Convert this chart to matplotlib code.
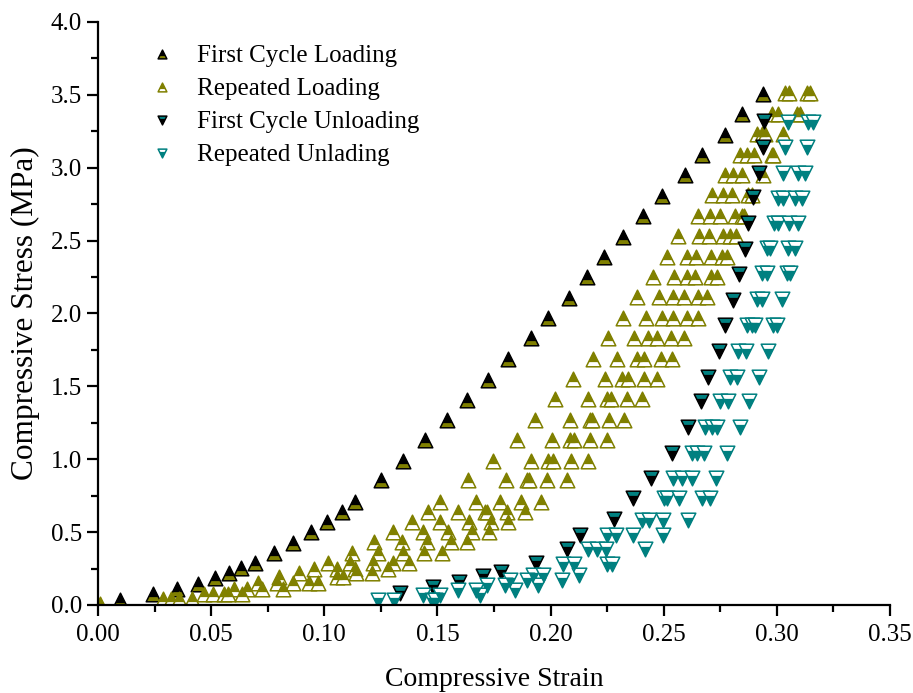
import matplotlib.pyplot as plt
from matplotlib.path import Path
from matplotlib.ticker import MultipleLocator, AutoMinorLocator, FormatStrFormatter
from matplotlib.legend_handler import HandlerTuple

plt.rcParams['font.family'] = ['Liberation Serif', 'DejaVu Serif']

olive = '#808000'
teal = '#008080'

# first cycle loading
load1_x = [0.0097, 0.0243, 0.0349, 0.0441, 0.0517, 0.0579, 0.0631, 0.0694, 0.0778,
           0.0860, 0.0941, 0.1013, 0.1080, 0.1136, 0.1251, 0.1348, 0.1445, 0.1542,
           0.1631, 0.1723, 0.1812, 0.1913, 0.1989, 0.2081, 0.2161, 0.2236, 0.2320,
           0.2408, 0.2492, 0.2594, 0.2669, 0.2771, 0.2846, 0.2937]
load1_y = [0.034, 0.075, 0.110, 0.144, 0.185, 0.220, 0.254, 0.288, 0.357,
           0.425, 0.501, 0.569, 0.638, 0.707, 0.858, 0.988, 1.132, 1.269,
           1.406, 1.544, 1.688, 1.830, 1.970, 2.106, 2.250, 2.387, 2.525,
           2.669, 2.806, 2.950, 3.087, 3.225, 3.369, 3.506]

# repeated loading, grouped by stress level
rload_y = [3.51, 3.37, 3.23, 3.09, 2.95, 2.81, 2.67, 2.53, 2.39, 2.25, 2.11, 1.97,
           1.83, 1.69, 1.55, 1.41, 1.27, 1.13, 0.99, 0.86, 0.71, 0.64, 0.57, 0.50,
           0.43, 0.36, 0.29, 0.25, 0.22, 0.19, 0.15, 0.11, 0.075, 0.04, 0.01]
rload_x = [
    [0.3036, 0.3055, 0.3132, 0.3146],
    [0.2977, 0.3006, 0.3087, 0.3102],
    [0.2911, 0.2933, 0.2947, 0.3028],
    [0.2837, 0.2867, 0.2899, 0.2977, 0.2984],
    [0.2771, 0.2805, 0.2844, 0.2940],
    [0.2712, 0.2763, 0.2803, 0.2874, 0.2889],
    [0.2650, 0.2704, 0.2749, 0.2815, 0.2844, 0.2855],
    [0.2564, 0.2657, 0.2701, 0.2763, 0.2793, 0.2818],
    [0.2513, 0.2601, 0.2643, 0.2707, 0.2756, 0.2778],
    [0.2451, 0.2545, 0.2601, 0.2638, 0.2707, 0.2737],
    [0.2380, 0.2480, 0.2540, 0.2589, 0.2653, 0.2690],
    [0.2318, 0.2422, 0.2491, 0.2540, 0.2604, 0.2653],
    [0.2255, 0.2370, 0.2429, 0.2469, 0.2531, 0.2591],
    [0.2186, 0.2295, 0.2380, 0.2413, 0.2487, 0.2535],
    [0.2100, 0.2240, 0.2314, 0.2343, 0.2413, 0.2472],
    [0.2019, 0.2164, 0.2248, 0.2266, 0.2339, 0.2403],
    [0.1931, 0.2086, 0.2174, 0.2182, 0.2258, 0.2324],
    [0.1850, 0.2005, 0.2086, 0.2103, 0.2174, 0.2248],
    [0.1747, 0.1912, 0.1990, 0.2012, 0.2089, 0.2167],
    [0.1636, 0.1802, 0.1894, 0.1906, 0.1983, 0.2071],
    [0.1511, 0.1669, 0.1776, 0.1868, 0.1956],
    [0.1460, 0.1592, 0.1710, 0.1720, 0.1806, 0.1887],
    [0.1386, 0.1511, 0.1641, 0.1737, 0.1813],
    [0.1305, 0.1435, 0.1548, 0.1651, 0.1729],
    [0.1220, 0.1342, 0.1452, 0.1559, 0.1629],
    [0.1121, 0.1239, 0.1346, 0.1441, 0.1519],
    [0.1018, 0.1114, 0.1217, 0.1305, 0.1376],
    [0.0954, 0.1055, 0.1136, 0.1283],
    [0.0890, 0.1140, 0.1209],
    [0.0801, 0.1055, 0.1084],
    [0.0708, 0.0790, 0.0863, 0.0934, 0.0973],
    [0.0601, 0.0660, 0.0723, 0.0816],
    [0.0468, 0.0510, 0.0557, 0.0576, 0.0635],
    [0.0286, 0.0321, 0.0359, 0.0414],
    [0.0009],
]

# first cycle unloading
unload1_x = [0.2943, 0.2937, 0.2922, 0.2896, 0.2874, 0.2859, 0.2833, 0.2805, 0.2771,
             0.2744, 0.2697, 0.2665, 0.2608, 0.2536, 0.2442, 0.2363, 0.2280, 0.2130,
             0.2071, 0.1935, 0.1779, 0.1703, 0.1597, 0.1479, 0.1335]
unload1_y = [3.320, 3.140, 2.966, 2.797, 2.619, 2.440, 2.271, 2.093, 1.921,
             1.743, 1.566, 1.400, 1.219, 1.045, 0.871, 0.732, 0.588, 0.480,
             0.382, 0.285, 0.228, 0.196, 0.156, 0.120, 0.079]

# repeated unloading, grouped by stress level
runload_y = [3.316, 3.142, 2.966, 2.790, 2.619, 2.447, 2.276, 2.097, 1.918, 1.743,
             1.566, 1.400, 1.219, 1.045, 0.871, 0.732, 0.583, 0.480, 0.381, 0.281,
             0.206, 0.172, 0.137, 0.103, 0.069, 0.034]
runload_x = [
    [0.3050, 0.3139, 0.3161],
    [0.3036, 0.3132],
    [0.3026, 0.3095, 0.3124],
    [0.3006, 0.3026, 0.3080, 0.3110],
    [0.2988, 0.3006, 0.3055, 0.3095],
    [0.2955, 0.2970, 0.3050, 0.3080],
    [0.2933, 0.2955, 0.3043, 0.3058],
    [0.2911, 0.2933, 0.3021],
    [0.2867, 0.2889, 0.2903, 0.2984, 0.3002],
    [0.2829, 0.2862, 0.2962],
    [0.2793, 0.2822, 0.2922],
    [0.2749, 0.2785, 0.2878],
    [0.2682, 0.2712, 0.2734, 0.2837],
    [0.2623, 0.2646, 0.2678, 0.2781],
    [0.2542, 0.2579, 0.2623, 0.2731],
    [0.2501, 0.2514, 0.2569, 0.2668, 0.2704],
    [0.2403, 0.2436, 0.2498, 0.2608],
    [0.2248, 0.2289, 0.2363, 0.2498],
    [0.2167, 0.2204, 0.2245, 0.2417],
    [0.2056, 0.2103, 0.2248, 0.2270],
    [0.1924, 0.1968, 0.2127],
    [0.1821, 0.1894, 0.2049],
    [0.1718, 0.1798, 0.1946],
    [0.1592, 0.1670, 0.1843],
    [0.1437, 0.1511, 0.1688],
    [0.1239, 0.1308, 0.1475, 0.1489],
]


def flatten(levels, rows):
    xs, ys = [], []
    for lv, row in zip(levels, rows):
        xs += row
        ys += [lv] * len(row)
    return xs, ys


rload_xf, rload_yf = flatten(rload_y, rload_x)
runload_xf, runload_yf = flatten(runload_y, runload_x)

# half filled triangles like Origin's symbols
up_full = Path([(0, 1), (-1, -1), (1, -1), (0, 1)], closed=True)
up_top = Path([(0, 1), (-0.68, -0.36), (0.68, -0.36), (0, 1)], closed=True)
dn_full = Path([(0, -1), (-1, 1), (1, 1), (0, -1)], closed=True)
dn_tip = Path([(0, -1), (-0.68, 0.36), (0.68, 0.36), (0, -1)], closed=True)

ms = 10.5

fig = plt.figure(figsize=(9.13, 6.93), dpi=100)
ax = fig.add_axes([0.1073, 0.127, 0.8675, 0.8413])


def half_marker(x, y, full, part, face, alt, edge):
    a, = ax.plot(x, y, ls='none', marker=full, ms=ms, mfc=alt, mec=edge, mew=1.1)
    b, = ax.plot(x, y, ls='none', marker=part, ms=ms, mfc=face, mec='none', mew=0)
    return (a, b)


h1 = half_marker(load1_x, load1_y, up_full, up_top, 'black', olive, 'black')
h2 = half_marker(rload_xf, rload_yf, up_full, up_top, olive, 'white', olive)
h3 = half_marker(unload1_x, unload1_y, dn_full, dn_tip, 'black', teal, 'black')
h4 = half_marker(runload_xf, runload_yf, dn_full, dn_tip, teal, 'white', teal)

ax.set_xlim(0, 0.35)
ax.set_ylim(0, 4.0)
ax.xaxis.set_major_locator(MultipleLocator(0.05))
ax.yaxis.set_major_locator(MultipleLocator(0.5))
ax.xaxis.set_minor_locator(AutoMinorLocator(2))
ax.yaxis.set_minor_locator(AutoMinorLocator(2))
ax.xaxis.set_major_formatter(FormatStrFormatter('%.2f'))
ax.yaxis.set_major_formatter(FormatStrFormatter('%.1f'))

for s in ['top', 'right']:
    ax.spines[s].set_visible(False)
for s in ['left', 'bottom']:
    ax.spines[s].set_linewidth(1.6)

ax.tick_params(which='major', direction='out', length=8, width=1.6, labelsize=18)
ax.tick_params(which='minor', direction='out', length=5, width=1.6)
ax.tick_params(axis='x', pad=6)

ax.set_xlabel('Compressive Strain', fontsize=20, labelpad=15)
ax.set_ylabel('Compressive Stress (MPa)', fontsize=22.5, labelpad=7.5)

ax.legend([h1, h2, h3, h4],
          ['First Cycle Loading', 'Repeated Loading', 'First Cycle Unloading', 'Repeated Unlading'],
          handler_map={tuple: HandlerTuple(ndivide=1, pad=0)},
          loc='upper left', bbox_to_anchor=(0.04, 0.995), frameon=False,
          fontsize=18, markerscale=0.6, handlelength=1.0, handletextpad=0.9,
          labelspacing=0.42, borderpad=0.3)

fig.savefig('out.png', dpi=100)
